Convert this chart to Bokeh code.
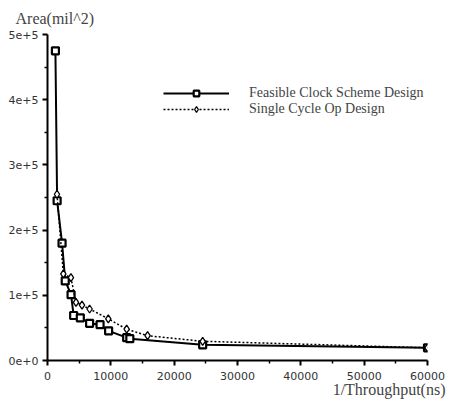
from bokeh.plotting import figure
from bokeh.models import Range1d, FixedTicker, Legend, LegendItem, Title
from bokeh.embed import file_html
from bokeh.resources import INLINE

# data
feasible_x = [1250, 1520, 2300, 2800, 3720, 4130, 5180, 6650, 8300, 9650, 12500, 13000, 24500, 60000]
feasible_y = [475000, 245000, 180000, 122000, 101000, 69000, 65500, 57000, 55000, 45500, 35000, 33500, 24000, 19500]

single_x = [1500, 2500, 3700, 4500, 5450, 6650, 9600, 12500, 15800, 24500, 60000]
single_y = [255000, 133000, 127000, 89000, 85000, 79000, 64000, 48000, 38000, 29500, 19500]

x_ticks = [0, 10000, 20000, 30000, 40000, 50000, 60000]
x_minor = [5000, 15000, 25000, 35000, 45000, 55000]
y_ticks = [0, 100000, 200000, 300000, 400000, 500000]
y_tick_labels = ["0e+0", "1e+5", "2e+5", "3e+5", "4e+5", "5e+5"]
y_minor = [50000, 150000, 250000, 350000, 450000]

series_names = ["Feasible Clock Scheme Design", "Single Cycle Op Design"]
x_title = "1/Throughput(ns)"
y_title = "Area(mil^2)"

p = figure(width=449, height=404, output_backend="svg", toolbar_location=None,
           x_range=Range1d(0, 60000), y_range=Range1d(0, 500000),
           min_border_left=47, min_border_right=22, min_border_top=34, min_border_bottom=44)
p.outline_line_color = None
p.xgrid.visible = False
p.ygrid.visible = False
p.background_fill_color = "white"

for ax in (p.xaxis[0], p.yaxis[0]):
    ax.axis_line_width = 2
    ax.axis_line_color = "black"
    ax.major_tick_line_width = 2
    ax.minor_tick_line_width = 1.5
    ax.major_tick_out = 5
    ax.major_tick_in = 0
    ax.minor_tick_out = 3
    ax.minor_tick_in = 0
    ax.major_label_text_font = "DejaVu Sans"
    ax.major_label_text_font_size = "11px"
    ax.major_label_text_color = "#333333"

p.xaxis.ticker = FixedTicker(ticks=x_ticks, minor_ticks=x_minor)
p.yaxis.ticker = FixedTicker(ticks=y_ticks, minor_ticks=y_minor)
p.yaxis.major_label_overrides = {t: l for t, l in zip(y_ticks, y_tick_labels)}
p.xaxis.major_label_standoff = 6
p.yaxis.major_label_standoff = 4

r1 = p.line(feasible_x, feasible_y, line_color="black", line_width=2)
m1 = p.scatter(feasible_x, feasible_y, marker="square", size=7, fill_color="white",
               line_color="black", line_width=2.2)
r2 = p.line(single_x, single_y, line_color="black", line_width=1.5, line_dash="2 2")
m2 = p.scatter(single_x, single_y, marker="diamond", size=8, fill_color="white",
               line_color="black", line_width=1.3)

legend = Legend(items=[LegendItem(label=series_names[0], renderers=[r1, m1]),
                       LegendItem(label=series_names[1], renderers=[r2, m2])],
                location=(116, 243), padding=0, margin=0, spacing=-3,
                glyph_width=66, glyph_height=14, label_standoff=20,
                label_text_font="Liberation Serif", label_text_font_size="14px",
                label_height=14,
                border_line_color=None, background_fill_alpha=0)
p.add_layout(legend, "center")

t_y = Title(text=y_title, align="left", offset=-32, standoff=12, vertical_align="top",
            text_font="Liberation Serif", text_font_size="16px", text_font_style="normal")
p.add_layout(t_y, "above")
t_x = Title(text=x_title, align="right", offset=-18, standoff=-7,
            text_font="Liberation Serif", text_font_size="16px", text_font_style="normal")
p.add_layout(t_x, "below")

open("out.html", "w").write(file_html(p, INLINE))
